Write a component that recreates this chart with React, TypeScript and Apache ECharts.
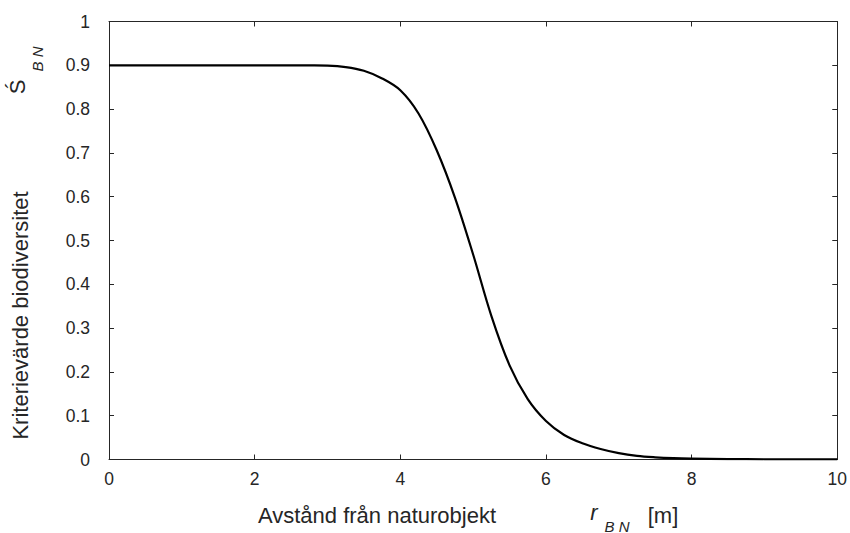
import React, { useEffect, useRef } from "react";
import * as echarts from "echarts";

// Distance from the nature object, r_BN [m]
const distance = [
  0, 1, 2, 2.5, 2.75, 3.0, 3.25, 3.5, 3.75, 4.0, 4.25, 4.5, 4.75, 5.0, 5.25,
  5.5, 5.75, 6.0, 6.25, 6.5, 6.75, 7.0, 7.25, 7.5, 7.75, 8.0, 8.5, 9.0, 10.0,
];
// Criterion value for biodiversity, S_BN
const criterion = [
  0.9, 0.9, 0.9, 0.9, 0.8998, 0.8993, 0.896, 0.8875, 0.87, 0.843, 0.79, 0.706,
  0.598, 0.468, 0.328, 0.215, 0.138, 0.088, 0.056, 0.037, 0.024, 0.0145,
  0.0083, 0.005, 0.003, 0.002, 0.001, 0.0005, 0.0001,
];

const xTickStep = 2;
const yTickStep = 0.1;

const xTitle = "Avstånd från naturobjekt";
const yTitle = "Kriterievärde biodiversitet";

const FONT = "'Liberation Sans', Arial, Helvetica, sans-serif";
const INK = "#262626";

export default function App() {
  const ref = useRef<HTMLDivElement>(null);

  useEffect(() => {
    if (!ref.current) return;
    const chart = echarts.init(ref.current, null, { renderer: "svg" });

    const axisLine = { show: true, onZero: false, lineStyle: { color: INK, width: 1 } };
    const tick = { show: true, inside: true, length: 5, lineStyle: { color: INK, width: 1 } };
    const label = { color: INK, fontSize: 17.5, fontFamily: FONT };

    chart.setOption({
      animation: false,
      backgroundColor: "#ffffff",
      grid: { left: 109, right: 7, top: 21.5, bottom: 73.5 },
      xAxis: [
        {
          type: "value", min: 0, max: 10, interval: xTickStep, position: "bottom",
          axisLine, axisTick: tick, splitLine: { show: false },
          axisLabel: { ...label, margin: 10 },
        },
        {
          type: "value", min: 0, max: 10, interval: xTickStep, position: "top",
          axisLine, axisTick: tick, splitLine: { show: false },
          axisLabel: { show: false },
        },
      ],
      yAxis: [
        {
          type: "value", min: 0, max: 1, interval: yTickStep, position: "left",
          axisLine, axisTick: tick, splitLine: { show: false },
          axisLabel: { ...label, margin: 19, padding: [0, 0, 8, 0] },
        },
        {
          type: "value", min: 0, max: 1, interval: yTickStep, position: "right",
          axisLine, axisTick: tick, splitLine: { show: false },
          axisLabel: { show: false },
        },
      ],
      series: [
        {
          type: "line",
          xAxisIndex: 0,
          yAxisIndex: 0,
          data: distance.map((x, i) => [x, criterion[i]]),
          showSymbol: false,
          smooth: 0.35,
          lineStyle: { color: "#000000", width: 2.2 },
        },
      ],
      graphic: [
        {
          type: "text", x: 20.5, y: 315.5, rotation: Math.PI / 2,
          style: { text: yTitle, fill: INK, font: `22px ${FONT}`, align: "center", verticalAlign: "middle" },
        },
        {
          type: "text", x: 17, y: 87, rotation: Math.PI / 2,
          style: { text: "Ś", fill: INK, font: `22px ${FONT}`, align: "center", verticalAlign: "middle" },
        },
        {
          type: "text", x: 37, y: 59, rotation: Math.PI / 2,
          style: { text: "B N", fill: INK, font: `italic 15px ${FONT}`, align: "center", verticalAlign: "middle" },
        },
        {
          type: "text", x: 377, y: 515,
          style: { text: xTitle, fill: INK, font: `22px ${FONT}`, align: "center", verticalAlign: "middle" },
        },
        {
          type: "text", x: 594, y: 512,
          style: { text: "r", fill: INK, font: `italic 22px ${FONT}`, align: "center", verticalAlign: "middle" },
        },
        {
          type: "text", x: 617, y: 526,
          style: { text: "B N", fill: INK, font: `italic 15px ${FONT}`, align: "center", verticalAlign: "middle" },
        },
        {
          type: "text", x: 663, y: 515,
          style: { text: "[m]", fill: INK, font: `22px ${FONT}`, align: "center", verticalAlign: "middle" },
        },
      ],
    });

    return () => chart.dispose();
  }, []);

  return <div ref={ref} style={{ width: 850, height: 533, position: "fixed", left: 0, top: 0 }} />;
}
